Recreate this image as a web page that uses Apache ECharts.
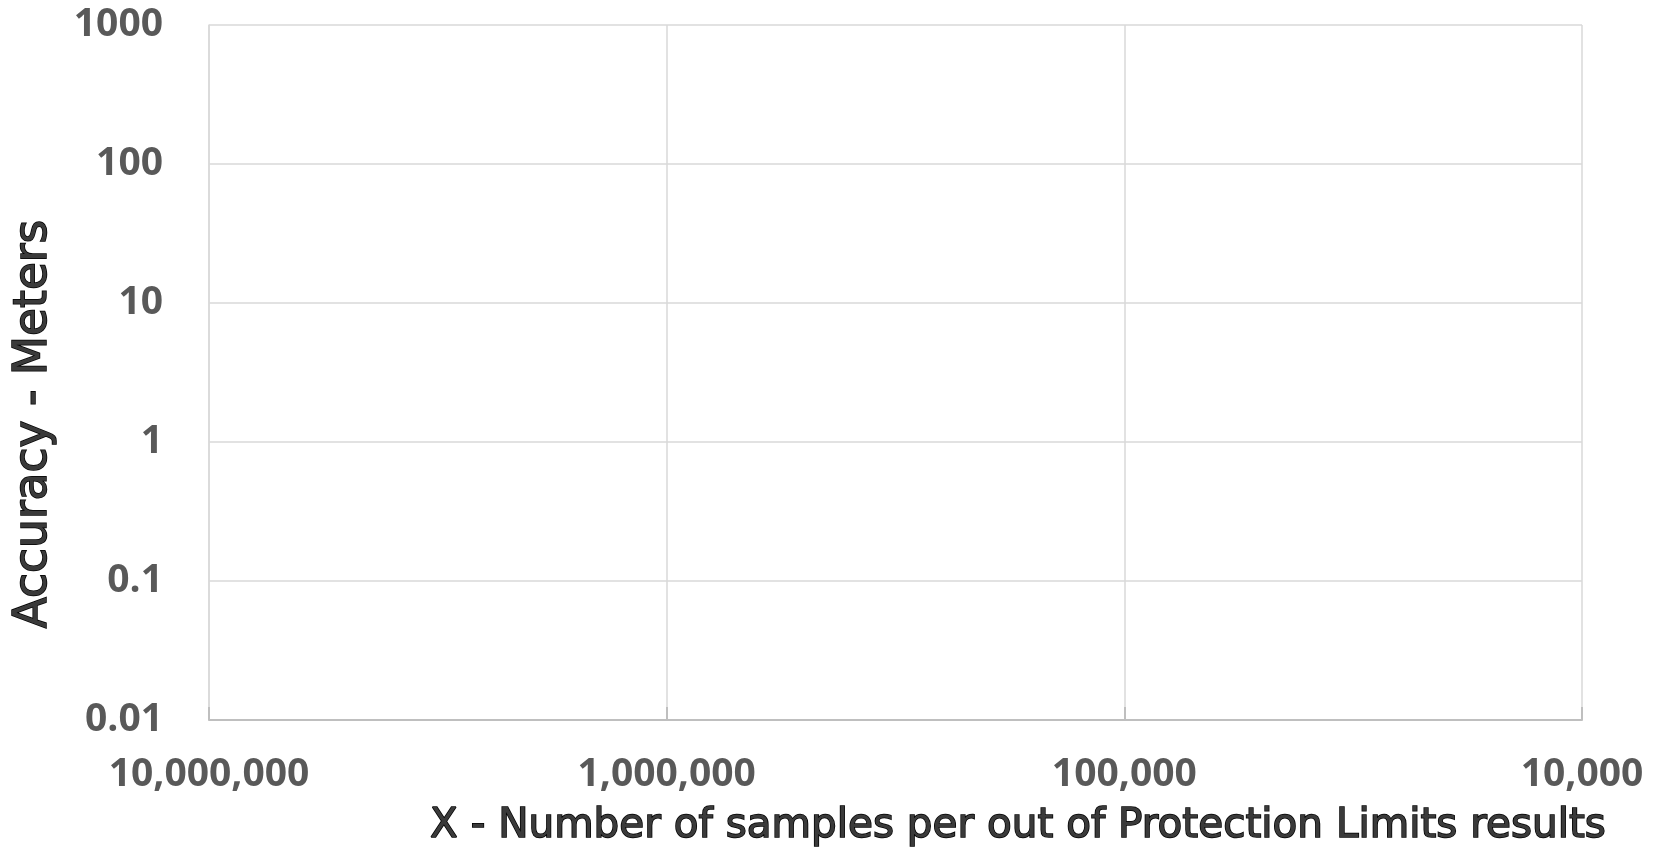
<!DOCTYPE html>
<html>
<head>
<meta charset="utf-8">
<script src="https://cdn.jsdelivr.net/npm/echarts@6/dist/echarts.min.js"></script>
<style>
html,body{margin:0;padding:0;background:#fff;}
#chart{width:1657px;height:852px;}
</style>
</head>
<body>
<div id="chart"></div>
<script>
// Axis ranges / labels
const xTicks = [10000000, 1000000, 100000, 10000];
const yTicks = [0.01, 0.1, 1, 10, 100, 1000];
const xTitle = 'X - Number of samples per out of Protection Limits results';
const yTitle = 'Accuracy - Meters';
// The reference chart contains no plotted data
const seriesX = [];
const seriesY = [];

const chart = echarts.init(document.getElementById('chart'));
const tickFont = {fontFamily: '"Open Sans"', fontWeight: 'bold', fontSize: 39, color: '#595959'};
chart.setOption({
  animation: false,
  grid: {left: 209, right: 1657 - 1582, top: 25, bottom: 852 - 720, containLabel: false},
  xAxis: {
    type: 'log', logBase: 10, inverse: true,
    min: xTicks[xTicks.length - 1], max: xTicks[0],
    axisLine: {show: true, lineStyle: {color: '#bfbfbf', width: 2}},
    axisTick: {show: true, inside: true, length: 13, lineStyle: {color: '#bfbfbf', width: 2}},
    splitLine: {show: true, lineStyle: {color: '#d9d9d9', width: 1.5}},
    axisLabel: Object.assign({margin: 35, formatter: v => Math.round(v).toLocaleString('en-US')}, tickFont),
  },
  yAxis: {
    type: 'log', logBase: 10,
    min: yTicks[0], max: yTicks[yTicks.length - 1],
    axisLine: {show: true, lineStyle: {color: '#d9d9d9', width: 1.5}},
    axisTick: {show: false},
    splitLine: {show: true, lineStyle: {color: '#d9d9d9', width: 1.5}},
    axisLabel: Object.assign({margin: 46, formatter: v => String(+v.toPrecision(6))}, tickFont),
  },
  graphic: [
    {type: 'text', x: 1018, y: 826, style: {
      text: xTitle, x: 0, y: 0, align: 'center', verticalAlign: 'middle',
      fontFamily: 'DejaVu Sans', fontSize: 40.5, fill: '#3a3a3a', stroke: '#000', lineWidth: 1.5}},
    {type: 'text', x: 34, y: 424, rotation: Math.PI / 2, style: {
      text: yTitle, x: 0, y: 0, align: 'center', verticalAlign: 'middle',
      fontFamily: 'DejaVu Sans', fontSize: 45.5, fill: '#3a3a3a', stroke: '#000', lineWidth: 1.5}}
  ],
  series: [{type: 'scatter', data: seriesX.map((x, i) => [x, seriesY[i]])}]
});
</script>
</body>
</html>
